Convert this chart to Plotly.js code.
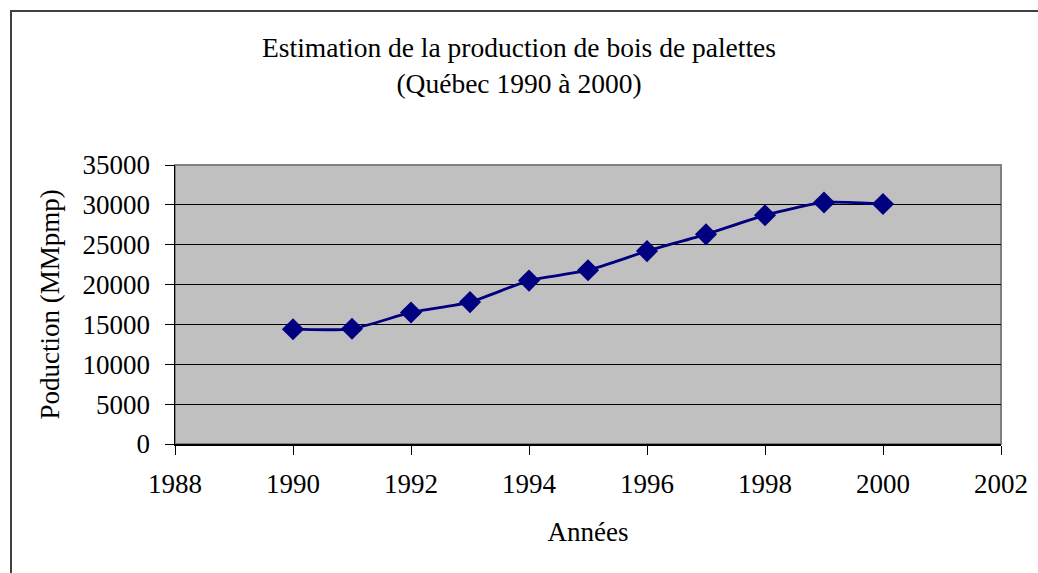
<!DOCTYPE html>
<html>
<head>
<meta charset="utf-8">
<script src="https://cdn.plot.ly/plotly-3.0.1.min.js"></script>
<style>
  html, body { margin: 0; padding: 0; background: #fff; overflow: hidden; }
  #chart { width: 1038px; height: 573px; position: absolute; left: 0; top: 0; }
  #frame { position: absolute; left: 10px; top: 10px; width: 1100px; height: 700px;
           border-left: 2px solid #404040; border-top: 2px solid #404040; pointer-events: none; }
</style>
</head>
<body>
<div id="chart"></div>
<div id="frame"></div>
<script>
const years = [1990, 1991, 1992, 1993, 1994, 1995, 1996, 1997, 1998, 1999, 2000];
const production = [14400, 14450, 16500, 17800, 20500, 21800, 24200, 26300, 28700, 30300, 30100];
const titleText = 'Estimation de la production de bois de palettes<br>(Québec 1990 à 2000)';
const xTitle = 'Années';
const yTitle = 'Poduction (MMpmp)';

const font = "'Liberation Serif'";

const trace = {
  x: years,
  y: production,
  type: 'scatter',
  mode: 'lines+markers',
  line: { color: '#000080', width: 2.8, shape: 'spline', smoothing: 0.6 },
  marker: { symbol: 'diamond', size: 17, color: '#000080' },
  hoverinfo: 'x+y'
};

const layout = {
  width: 1038,
  height: 573,
  margin: { l: 175, r: 37, t: 165, b: 129 },
  paper_bgcolor: '#ffffff',
  plot_bgcolor: '#c0c0c0',
  showlegend: false,
  font: { family: font, size: 27, color: '#000' },
  title: {
    text: titleText,
    font: { family: font, size: 27.5, color: '#000' },
    x: 0.5, xanchor: 'center', xref: 'container',
    y: 1 - 57 / 573, yanchor: 'middle', yref: 'container'
  },
  xaxis: {
    range: [1988, 2002],
    tickvals: [1988, 1990, 1992, 1994, 1996, 1998, 2000, 2002],
    ticktext: ['1988', '1990', '1992', '1994', '1996', '1998', '2000', '2002'],
    showgrid: false,
    zeroline: false,
    showline: true, linecolor: '#000', linewidth: 1.5,
    ticks: 'outside', ticklen: 9, tickcolor: '#000', tickwidth: 1,
    ticklabelstandoff: 6,
    tickfont: { family: font, size: 27, color: '#000' },
    title: { text: xTitle, font: { family: font, size: 27, color: '#000' }, standoff: 24 }
  },
  yaxis: {
    range: [0, 35000],
    tickvals: [0, 5000, 10000, 15000, 20000, 25000, 30000, 35000],
    ticktext: ['0', '5000', '10000', '15000', '20000', '25000', '30000', '35000'],
    showgrid: true, gridcolor: '#000', gridwidth: 1,
    zeroline: false,
    showline: true, linecolor: '#000', linewidth: 1.5,
    ticks: 'outside', ticklen: 9, tickcolor: '#000', tickwidth: 1,
    ticklabelstandoff: 9,
    tickfont: { family: font, size: 27, color: '#000' },
    title: { text: yTitle, font: { family: font, size: 27, color: '#000' }, standoff: 15 }
  },
  shapes: [
    { type: 'rect', xref: 'paper', yref: 'paper', x0: 0, x1: 1, y0: 0, y1: 1,
      line: { color: '#808080', width: 2 }, layer: 'below' }
  ]
};

Plotly.newPlot('chart', [trace], layout, { displayModeBar: false, staticPlot: true });
</script>
</body>
</html>
